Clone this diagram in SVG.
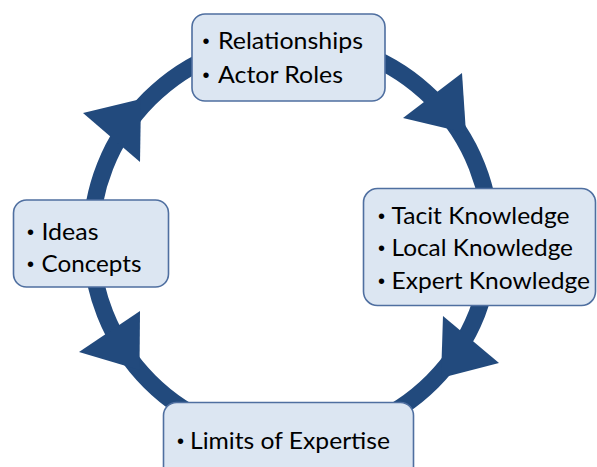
<svg xmlns="http://www.w3.org/2000/svg" width="597" height="467" viewBox="0 0 597 467">
<style>
.box{fill:#DCE6F2;stroke:#4F6FA0;stroke-width:1.6}
.t{font-family:"Lato","Liberation Sans",sans-serif;font-size:24px;fill:#000}
.b{font-family:"Liberation Sans",sans-serif;font-size:20px;fill:#000;text-anchor:middle}
.ring{fill:none;stroke:#224A7D;stroke-width:17}
.head{fill:#224A7D}
</style>
<rect width="597" height="467" fill="#fff"/>
<g id="connectors">
<circle class="ring" cx="291" cy="240" r="200"/>
<polygon class="head" points="83,113 141,99 140,162"/>
<polygon class="head" points="462,73 403,118 466,133"/>
<polygon class="head" points="443,316 499,363 441,378"/>
<polygon class="head" points="140,311 79,352 139.5,370"/>
</g>
<g id="node-relationships">
<rect class="box" x="192" y="14" width="193" height="87" rx="13"/>
<text class="b" x="206" y="48">•</text>
<text class="t" x="218" y="49" textLength="145" lengthAdjust="spacingAndGlyphs">Relationships</text>
<text class="b" x="206" y="82">•</text>
<text class="t" x="218" y="83" textLength="125" lengthAdjust="spacingAndGlyphs">Actor Roles</text>
</g>
<g id="node-knowledge">
<rect class="box" x="363.5" y="188.5" width="232" height="117" rx="14"/>
<text class="b" x="381.5" y="222.5">•</text>
<text class="t" x="391.5" y="223.5" textLength="178" lengthAdjust="spacingAndGlyphs">Tacit Knowledge</text>
<text class="b" x="381.5" y="255">•</text>
<text class="t" x="391.5" y="256" textLength="181.5" lengthAdjust="spacingAndGlyphs">Local Knowledge</text>
<text class="b" x="381.5" y="287.5">•</text>
<text class="t" x="391.5" y="288.5" textLength="198.5" lengthAdjust="spacingAndGlyphs">Expert Knowledge</text>
</g>
<g id="node-expertise">
<rect class="box" x="163.5" y="402.5" width="250" height="80" rx="13"/>
<text class="b" x="180.5" y="447.5">•</text>
<text class="t" x="190" y="448.5" textLength="200" lengthAdjust="spacingAndGlyphs">Limits of Expertise</text>
</g>
<g id="node-ideas">
<rect class="box" x="13.5" y="200" width="155" height="87" rx="13"/>
<text class="b" x="30.5" y="239">•</text>
<text class="t" x="41.5" y="240" textLength="57" lengthAdjust="spacingAndGlyphs">Ideas</text>
<text class="b" x="30.5" y="271">•</text>
<text class="t" x="41.5" y="272" textLength="100" lengthAdjust="spacingAndGlyphs">Concepts</text>
</g>
</svg>
